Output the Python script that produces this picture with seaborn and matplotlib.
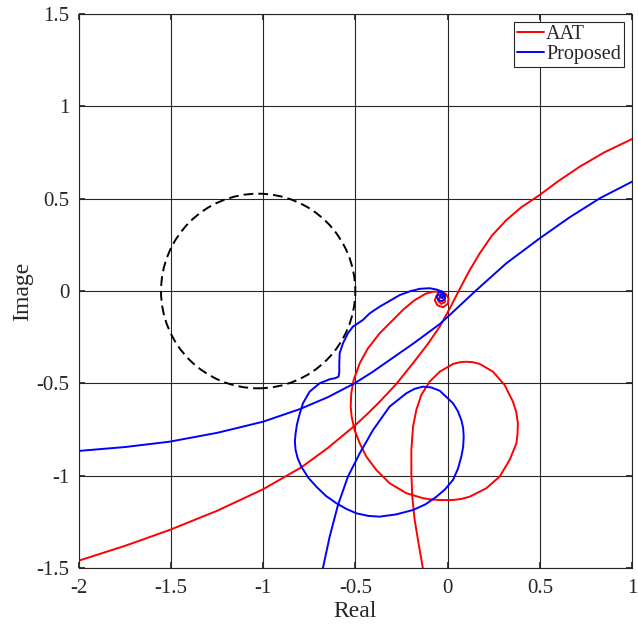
import numpy as np
import pandas as pd
import matplotlib.pyplot as plt
import matplotlib.patches as mpatches
import seaborn as sns

sns.set_theme(style='white')
plt.rcParams['font.family'] = ['Liberation Serif', 'DejaVu Serif']

# --- Curves (Real, Image) ---
aat_main_x = [1.0, 0.85, 0.716, 0.60, 0.499, 0.40, 0.318, 0.24, 0.174, 0.115, 0.065, 0.01,
              -0.043, -0.11, -0.188, -0.28, -0.369, -0.44, -0.505, -0.65, -0.794, -1.002,
              -1.25, -1.508, -1.75, -2.0]
aat_main_y = [0.823, 0.751, 0.673, 0.595, 0.52, 0.454, 0.384, 0.30, 0.204, 0.105, 0.01, -0.097,
              -0.193, -0.29, -0.391, -0.505, -0.60, -0.67, -0.73, -0.85, -0.955, -1.074,
              -1.19, -1.294, -1.38, -1.46]

aat_loop_x = [-0.134, -0.161, -0.179, -0.192, -0.197, -0.197, -0.188, -0.170, -0.143, -0.098,
              -0.043, 0.029, 0.065, 0.101, 0.138, 0.174, 0.246, 0.309, 0.354, 0.372, 0.381,
              0.379, 0.373, 0.336, 0.282, 0.210, 0.119, 0.075, 0.029, -0.043, -0.09, -0.134,
              -0.224, -0.315, -0.387, -0.441, -0.477, -0.505, -0.521, -0.526, -0.523, -0.510,
              -0.477, -0.432, -0.369, -0.297, -0.24, -0.18, -0.12, -0.08, -0.04, -0.01, 0.005,
              0.0, -0.025, -0.055, -0.07, -0.06, -0.035, -0.015, -0.015, -0.035, -0.05, -0.045,
              -0.03]
aat_loop_y = [-1.505, -1.348, -1.240, -1.114, -0.987, -0.861, -0.735, -0.644, -0.563, -0.491,
              -0.437, -0.395, -0.386, -0.383, -0.386, -0.395, -0.437, -0.509, -0.599, -0.655,
              -0.716, -0.772, -0.825, -0.915, -1.005, -1.068, -1.114, -1.126, -1.132, -1.132,
              -1.129, -1.122, -1.095, -1.041, -0.969, -0.897, -0.825, -0.753, -0.680, -0.626,
              -0.554, -0.482, -0.391, -0.310, -0.229, -0.157, -0.10, -0.05, -0.015, -0.004,
              -0.003, -0.015, -0.04, -0.07, -0.088, -0.078, -0.05, -0.025, -0.018, -0.035,
              -0.06, -0.07, -0.055, -0.035, -0.035]

prop_main_x = [1.0, 0.825, 0.66, 0.499, 0.318, 0.156, 0.011, -0.043, -0.18, -0.315, -0.41,
               -0.505, -0.65, -0.803, -1.002, -1.25, -1.508, -1.75, -2.0]
prop_main_y = [0.592, 0.502, 0.398, 0.285, 0.15, 0.005, -0.13, -0.179, -0.28, -0.374, -0.44,
               -0.5, -0.575, -0.64, -0.708, -0.768, -0.816, -0.845, -0.866]

prop_loop_x = [-0.677, -0.640, -0.595, -0.541, -0.477, -0.405, -0.315, -0.224, -0.18, -0.134,
               -0.09, -0.043, 0.029, 0.055, 0.074, 0.084, 0.087, 0.084, 0.074, 0.056, 0.029,
               -0.015, -0.061, -0.12, -0.188, -0.28, -0.369, -0.43, -0.495, -0.55, -0.604,
               -0.66, -0.712, -0.757, -0.794, -0.814, -0.825, -0.829, -0.825, -0.818, -0.807,
               -0.785, -0.749, -0.695, -0.640, -0.610, -0.592, -0.588, -0.588, -0.586, -0.568,
               -0.541, -0.514, -0.460, -0.423, -0.369, -0.30, -0.26, -0.20, -0.15, -0.098,
               -0.06, -0.03, -0.015, -0.015, -0.03, -0.05, -0.06, -0.05, -0.03, -0.022, -0.03,
               -0.042, -0.038]
prop_loop_y = [-1.502, -1.330, -1.159, -1.005, -0.879, -0.753, -0.626, -0.554, -0.53, -0.518,
               -0.522, -0.540, -0.608, -0.65, -0.698, -0.742, -0.789, -0.845, -0.897, -0.962,
               -1.023, -1.075, -1.114, -1.155, -1.186, -1.21, -1.222, -1.218, -1.204, -1.18,
               -1.149, -1.11, -1.060, -1.01, -0.951, -0.905, -0.861, -0.816, -0.771, -0.725,
               -0.680, -0.608, -0.545, -0.500, -0.478, -0.472, -0.464, -0.44, -0.40, -0.337,
               -0.283, -0.229, -0.193, -0.157, -0.121, -0.085, -0.045, -0.022, 0.0, 0.012,
               0.015, 0.008, -0.003, -0.02, -0.04, -0.055, -0.05, -0.03, -0.008, -0.008,
               -0.025, -0.038, -0.03, -0.02]

circle_center = (-1.028, 0.0)
circle_radius = 0.527

x_ticks = [-2, -1.5, -1, -0.5, 0, 0.5, 1]
y_ticks = [-1.5, -1, -0.5, 0, 0.5, 1, 1.5]

fig = plt.figure(figsize=(6.38, 6.32), dpi=100)
ax = fig.add_axes([0.1238, 0.1013, 0.8668, 0.8765])

ax.grid(True, color='#262626', linewidth=0.8)
ax.set_axisbelow(True)

lw = 1.4
segments = [
    ('AAT', 'red', aat_main_x, aat_main_y),
    ('_nolegend_', 'red', aat_loop_x, aat_loop_y),
    ('Proposed', 'blue', prop_main_x, prop_main_y),
    ('_nolegend_', 'blue', prop_loop_x, prop_loop_y),
]
for label, color, xs, ys in segments:
    df = pd.DataFrame({'Real': xs, 'Image': ys})
    sns.lineplot(data=df, x='Real', y='Image', sort=False, estimator=None,
                 color=color, linewidth=lw, label=label, ax=ax, legend=False,
                 solid_joinstyle='round', solid_capstyle='round')

circ = mpatches.Circle(circle_center, circle_radius, fill=False, edgecolor='black',
                       linestyle=(0, (5, 2.6)), linewidth=lw)
ax.add_patch(circ)

ax.set_xlim(-2, 1)
ax.set_ylim(-1.5, 1.5)
ax.set_xticks(x_ticks)
ax.set_yticks(y_ticks)
fmt = lambda v: ('%g' % v)
ax.set_xticklabels([fmt(v) for v in x_ticks])
ax.set_yticklabels([fmt(v) for v in y_ticks])
ax.tick_params(direction='in', length=4, labelsize=15, colors='#262626',
               top=True, right=True, bottom=True, left=True)
ax.tick_params(axis='x', pad=8)
ax.tick_params(axis='y', pad=7)
for s in ax.spines.values():
    s.set_color('#262626')
    s.set_linewidth(0.8)

ax.set_xlabel('Real', fontsize=17, color='#262626', labelpad=2)
ax.set_ylabel('Image', fontsize=17, color='#262626', labelpad=2)

handles = [plt.Line2D([], [], color='red', linewidth=lw),
           plt.Line2D([], [], color='blue', linewidth=lw)]
leg = ax.legend(handles, ['AAT', 'Proposed'], loc='upper right', fontsize=14.5,
                frameon=True, fancybox=False, edgecolor='#262626', framealpha=1,
                handlelength=1.35, handletextpad=0.1, borderpad=0.15, labelspacing=0.05,
                borderaxespad=0.4)
leg.get_frame().set_linewidth(0.8)

plt.savefig('out.png', dpi=100)
